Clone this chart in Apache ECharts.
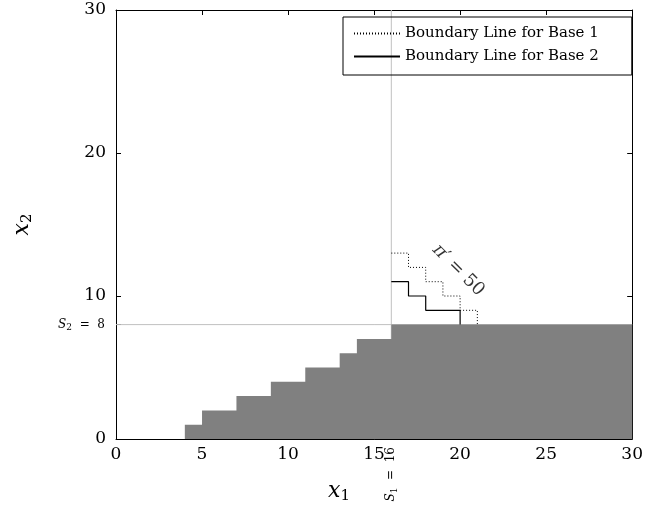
<!DOCTYPE html>
<html>
<head>
<meta charset="utf-8">
<script src="https://cdn.jsdelivr.net/npm/echarts@6/dist/echarts.min.js"></script>
<style>html,body{margin:0;padding:0;background:#fff}#c{width:646px;height:517px}</style>
</head>
<body>
<div id="c"></div>
<script>
// data
const stairX = [4, 4, 5, 7, 9, 11, 13, 14, 16, 30];
const stairY = [0, 1, 2, 3, 4, 5, 6, 7, 8, 8];
const base1X = [16, 17, 18, 19, 20, 21];
const base1Y = [13, 12, 11, 10, 9, 8];
const base2X = [16, 17, 18, 20];
const base2Y = [11, 10, 9, 8];
const S1 = 16;
const S2 = 8;
const piLabelPos = [19.9, 11.8];
const xTicks = [0, 5, 10, 15, 20, 25, 30];
const yTicks = [0, 10, 20, 30];

const zip = (a, b) => a.map((v, i) => [v, b[i]]);
const serif = '"DejaVu Serif", serif';

const chart = echarts.init(document.getElementById('c'), null, {renderer: 'canvas'});
const axisLine = {show: true, onZero: false, lineStyle: {color: '#000', width: 1}};
const noLine = {show: false, onZero: false};
const tickIn = {show: true, inside: true, length: 5, lineStyle: {color: '#000'}};

chart.setOption({
  animation: false,
  grid: {left: 116, right: 13, top: 10, bottom: 78, containLabel: false},
  legend: {
    top: 17, left: 343, orient: 'vertical',
    data: ['Boundary Line for Base 1', 'Boundary Line for Base 2'],
    borderColor: '#000', borderWidth: 1, borderRadius: 0,
    padding: [9, 33, 11, 10], itemGap: 8, itemWidth: 46, itemHeight: 14,
    itemStyle: {opacity: 0},
    textStyle: {fontFamily: serif, fontSize: 15, color: '#000'}
  },
  xAxis: [
    {type: 'value', min: 0, max: 30, interval: 5, position: 'bottom',
     axisLine, axisTick: tickIn, splitLine: {show: false},
     axisLabel: {fontFamily: serif, fontSize: 17, color: '#000', margin: 7},
     name: '{i|x}{s|1}', nameLocation: 'middle', nameGap: 40,
     nameTextStyle: {padding: [0, 70, 0, 0], rich: {
       i: {fontFamily: serif, fontStyle: 'italic', fontSize: 22, color: '#000'},
       s: {fontFamily: serif, fontSize: 15, color: '#000', padding: [10, 0, 0, 0]}}}},
    {type: 'value', min: 0, max: 30, interval: 5, position: 'top',
     axisLine, axisTick: tickIn, splitLine: {show: false},
     axisLabel: {show: false}},
    {type: 'value', min: 0, max: 30, position: 'bottom',
     axisLine: noLine, axisTick: Object.assign({}, tickIn, {customValues: [S1]}), splitLine: {show: false},
     axisLabel: {customValues: [S1], rotate: 90, margin: 8,
       formatter: () => '{i|S}{s|1}{n|  =  ' + S1 + '}',
       rich: {i: {fontFamily: serif, fontStyle: 'italic', fontSize: 12, color: '#000'},
              s: {fontFamily: serif, fontSize: 9, color: '#000', padding: [6, 0, 0, 0]},
              n: {fontFamily: serif, fontSize: 12, color: '#000'}},
       fontFamily: serif, fontSize: 12, color: '#000'}}
  ],
  yAxis: [
    {type: 'value', min: 0, max: 30, interval: 10, position: 'left',
     axisLine, axisTick: tickIn, splitLine: {show: false},
     axisLabel: {fontFamily: serif, fontSize: 17, color: '#000', margin: 10},
     name: '{i|x}{s|2}', nameLocation: 'middle', nameGap: 81,
     nameTextStyle: {rich: {
       i: {fontFamily: serif, fontStyle: 'italic', fontSize: 22, color: '#000'},
       s: {fontFamily: serif, fontSize: 15, color: '#000', padding: [10, 0, 0, 0]}}}},
    {type: 'value', min: 0, max: 30, interval: 10, position: 'right',
     axisLine, axisTick: tickIn, splitLine: {show: false},
     axisLabel: {show: false}},
    {type: 'value', min: 0, max: 30, position: 'left',
     axisLine: noLine, axisTick: Object.assign({}, tickIn, {customValues: [S2]}), splitLine: {show: false},
     axisLabel: {customValues: [S2], margin: 11,
       formatter: () => '{i|S}{s|2}{n|  =  ' + S2 + '}',
       rich: {i: {fontFamily: serif, fontStyle: 'italic', fontSize: 12, color: '#000'},
              s: {fontFamily: serif, fontSize: 9, color: '#000', padding: [6, 0, 0, 0]},
              n: {fontFamily: serif, fontSize: 12, color: '#000'}},
       fontFamily: serif, fontSize: 12, color: '#000'}}
  ],
  series: [
    {type: 'line', name: 'refV', data: [[S1, 0], [S1, 30]], symbol: 'none', silent: true,
     lineStyle: {color: '#c0c0c0', width: 1}, z: 1},
    {type: 'line', name: 'refH', data: [[0, S2], [30, S2]], symbol: 'none', silent: true,
     lineStyle: {color: '#c0c0c0', width: 1}, z: 1},
    {type: 'line', name: 'region', data: zip(stairX, stairY), step: 'end', symbol: 'none', silent: true,
     lineStyle: {width: 0, color: '#808080'}, itemStyle: {color: '#808080'},
     areaStyle: {color: '#808080', opacity: 1}, z: 2},
    {type: 'line', name: 'Boundary Line for Base 1', data: zip(base1X, base1Y), step: 'end', symbol: 'none',
     lineStyle: {color: '#000', width: 1, type: [1, 2]}, itemStyle: {color: '#000'}, z: 3},
    {type: 'line', name: 'Boundary Line for Base 2', data: zip(base2X, base2Y), step: 'end', symbol: 'none',
     lineStyle: {color: '#000', width: 1.2}, itemStyle: {color: '#000'}, z: 3},
    {type: 'scatter', name: 'piLabel', data: [piLabelPos], symbolSize: 0, silent: true,
     label: {show: true, position: 'inside', rotate: -45, formatter: '{i|π}′ = 50',
       fontFamily: serif, fontSize: 18, color: '#000',
       rich: {i: {fontFamily: serif, fontStyle: 'italic', fontSize: 18, color: '#000'}}}}
  ]
});
</script>
</body>
</html>
